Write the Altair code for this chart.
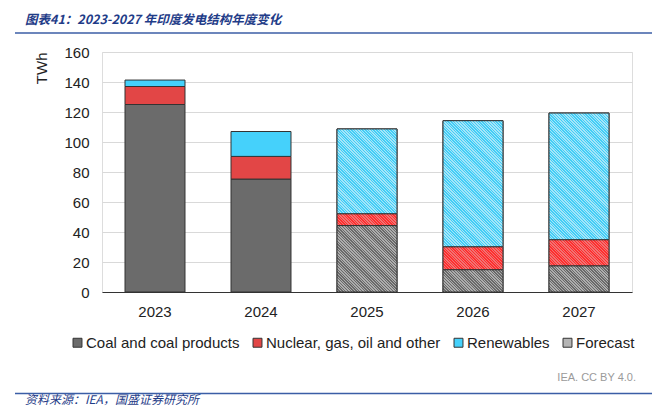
import altair as alt

# ---- data ----
years = ["2023", "2024", "2025", "2026", "2027"]
coal = [125.0, 75.3, 44.3, 14.9, 17.5]
nuclear = [12.0, 15.1, 7.9, 15.3, 17.4]
renewables = [4.3, 16.6, 56.5, 84.0, 84.4]
is_forecast = [False, False, True, True, True]

series_names = ["Coal and coal products", "Nuclear, gas, oil and other", "Renewables"]
legend_names = series_names + ["Forecast"]
y_ticks = [0, 20, 40, 60, 80, 100, 120, 140, 160]

title_text = "图表41：2023-2027 年印度发电结构年度变化"
source_text = "资料来源：IEA，国盛证券研究所"
credit_text = "IEA. CC BY 4.0."

# ---- styles ----
solid_colors = ["#6b6b6b", "#e24646", "#45d1fb", "#b5b5b5"]
hatch_pairs = [("#6a6a6a", "#adadad"), ("#ff2e2e", "#f07474"), ("#42cef7", "#a6e5f8")]
NAVY = "#1f3c88"
PLOT_W, PLOT_H = 530, 240
Y_MAX = 160
BAND = 60  # bar width in px (step 106, paddingInner 0.434)


def hatch(color_a, color_b, value):
    w = BAND
    h = max(value * PLOT_H / Y_MAX, 1.0)
    n = max(1, round((w + h) / 2.8))
    stops = []
    for k in range(n):
        o0, o1, o2 = round(k / n, 5), round((k + 0.5) / n, 5), round((k + 1) / n, 5)
        stops += [
            {"offset": o0, "color": color_a},
            {"offset": o1, "color": color_a},
            {"offset": o1, "color": color_b},
            {"offset": o2, "color": color_b},
        ]
    d = w * w + h * h
    return {
        "gradient": "linear",
        "x1": 0,
        "y1": 1,
        "x2": round(w * (w + h) / d, 5),
        "y2": round(1 - h * (w + h) / d, 5),
        "stops": stops,
    }


rows = []
for i, yr in enumerate(years):
    for j, (name, vals) in enumerate(zip(series_names, [coal, nuclear, renewables])):
        rows.append({
            "year": yr,
            "series": name,
            "ord": j,
            "value": vals[i],
            "forecast": is_forecast[i],
            "grad": hatch(hatch_pairs[j][0], hatch_pairs[j][1], vals[i]),
        })

FONT = "Liberation Sans"

x_enc = alt.X(
    "year:N",
    title=None,
    scale=alt.Scale(paddingInner=0.434, paddingOuter=0.217),
    axis=alt.Axis(
        labelAngle=0, ticks=False, domainColor="#333333", domainWidth=1,
        labelFontSize=15, labelFont=FONT, labelColor="#222222", labelPadding=12, grid=False,
    ),
)
y_enc = alt.Y(
    "value:Q",
    stack="zero",
    scale=alt.Scale(domain=[0, Y_MAX], nice=False),
    axis=alt.Axis(
        values=y_ticks, title="TWh", grid=True, gridColor="#d9d9d9", domain=False, ticks=False,
        labelFontSize=15, labelFont=FONT, labelColor="#222222", labelPadding=13,
        titleFont=FONT, titleFontSize=15, titleFontWeight="normal", titleColor="#222222",
        titleAngle=270, titleX=-61, titleY=0, titleAlign="right", titleBaseline="middle",
    ),
)
order_enc = alt.Order("ord:Q", sort="ascending")

data = alt.Data(values=rows)

base = alt.Chart(data).mark_bar(stroke="#333333", strokeWidth=1).encode(
    x=x_enc,
    y=y_enc,
    order=order_enc,
    fill=alt.Fill(
        "series:N",
        scale=alt.Scale(domain=legend_names, range=solid_colors),
        legend=alt.Legend(
            title=None, orient="none", legendX=-32, legendY=283, direction="horizontal",
            columns=4, symbolType="square", symbolSize=80, symbolStrokeColor="#333333",
            symbolStrokeWidth=1, labelFontSize=15, labelFont=FONT, labelColor="#222222",
            labelOffset=1, columnPadding=10, padding=0, labelLimit=400,
        ),
    ),
)

hatched = alt.Chart(data).transform_filter("datum.forecast").mark_bar(
    stroke="#333333", strokeWidth=1
).encode(
    x=x_enc,
    y=y_enc,
    order=order_enc,
    fill=alt.Fill("grad:N", scale=None),
)

one = alt.Data(values=[{"k": 1}])

top_rule = alt.Chart(one).mark_rule(color="#3b5ea6", strokeWidth=1.5).encode(
    x=alt.value(-87), x2=alt.value(558), y=alt.value(-19)
)
bottom_rule = alt.Chart(one).mark_rule(color="#3b5ea6", strokeWidth=1.5).encode(
    x=alt.value(-87), x2=alt.value(558), y=alt.value(341.5)
)

title_mark = alt.Chart(alt.Data(values=[{"t": title_text}])).mark_text(
    font="Noto Sans CJK SC", fontSize=12.5, fontStyle="italic", fontWeight="bold",
    color=NAVY, align="left", baseline="middle",
).encode(text="t:N", x=alt.value(-77), y=alt.value(-32))

source_mark = alt.Chart(alt.Data(values=[{"t": source_text}])).mark_text(
    font="Noto Sans CJK SC", fontSize=12, fontStyle="italic",
    color=NAVY, align="left", baseline="middle",
).encode(text="t:N", x=alt.value(-77), y=alt.value(348))

credit_mark = alt.Chart(alt.Data(values=[{"t": credit_text}])).mark_text(
    font=FONT, fontSize=11, color="#9a9a9a", align="right", baseline="middle",
).encode(text="t:N", x=alt.value(534), y=alt.value(326))

chart = alt.layer(
    base, hatched, top_rule, bottom_rule, title_mark, source_mark, credit_mark
).properties(
    width=PLOT_W,
    height=PLOT_H,
    autosize="none",
    padding={"left": 94, "top": 44, "right": 20, "bottom": 115},
).configure_view(strokeWidth=0).configure(font=FONT)

chart.save("out.html", embed_options={"renderer": "svg", "actions": False})
